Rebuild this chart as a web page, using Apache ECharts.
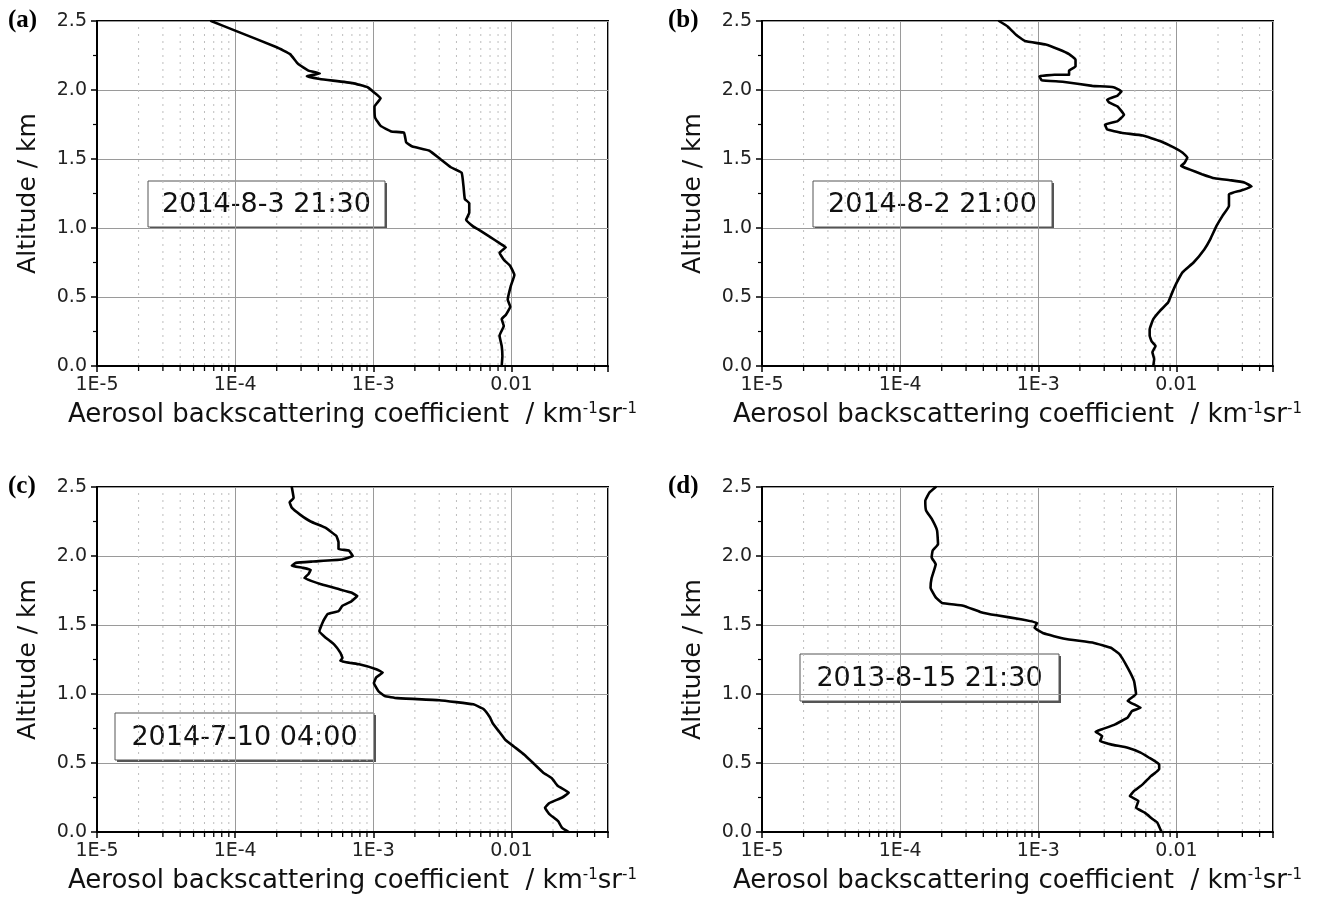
<!DOCTYPE html>
<html>
<head>
<meta charset="utf-8">
<title>Aerosol backscattering profiles</title>
<script src="https://cdn.jsdelivr.net/npm/echarts@6/dist/echarts.min.js"></script>
<style>
html, body { margin: 0; padding: 0; background: #ffffff; }
#chart { width: 1320px; height: 899px; }
</style>
</head>
<body>
<div id="chart"></div>
<script>
// ---------------- data ----------------
const panelLetters = ['(a)', '(b)', '(c)', '(d)'];
const panelDates = ['2014-8-3 21:30', '2014-8-2 21:00', '2014-7-10 04:00', '2013-8-15 21:30'];

const xTickValues = [1e-5, 1e-4, 1e-3, 1e-2];
const xTickLabels = ['1E-5', '1E-4', '1E-3', '0.01'];
const yTickValues = [0, 0.5, 1.0, 1.5, 2.0, 2.5];
const minorXValues = [
  2e-5, 3e-5, 4e-5, 5e-5, 6e-5, 7e-5, 8e-5, 9e-5,
  2e-4, 3e-4, 4e-4, 5e-4, 6e-4, 7e-4, 8e-4, 9e-4,
  2e-3, 3e-3, 4e-3, 5e-3, 6e-3, 7e-3, 8e-3, 9e-3,
  2e-2, 3e-2, 4e-2
];

// (a) 2014-8-3 21:30
const altA = [2.5, 2.43, 2.31, 2.26, 2.19, 2.14, 2.12, 2.10, 2.08, 2.05, 2.02, 1.98, 1.94, 1.88, 1.80, 1.74,
  1.70, 1.69, 1.62, 1.59, 1.56, 1.50, 1.44, 1.40, 1.30, 1.21, 1.18, 1.11, 1.06, 1.01, 0.99, 0.94,
  0.89, 0.86, 0.82, 0.77, 0.725, 0.66, 0.58, 0.48, 0.43, 0.37, 0.34, 0.29, 0.22, 0.145, 0.07, 0];
const betaA = [6.7e-5, 1.0e-4, 2.0e-4, 2.5e-4, 2.85e-4, 3.4e-4, 4.1e-4, 3.3e-4, 4.1e-4, 7.1e-4, 9.1e-4, 1.02e-3, 1.13e-3, 1.02e-3, 1.03e-3, 1.13e-3,
  1.35e-3, 1.67e-3, 1.73e-3, 1.92e-3, 2.55e-3, 3.05e-3, 3.64e-3, 4.36e-3, 4.5e-3, 4.6e-3, 4.95e-3, 4.95e-3, 4.7e-3, 5.3e-3, 5.75e-3, 6.9e-3,
  8.2e-3, 9.1e-3, 8.2e-3, 8.8e-3, 9.8e-3, 1.05e-2, 9.9e-3, 9.4e-3, 9.8e-3, 9.1e-3, 8.5e-3, 8.8e-3, 8.2e-3, 8.5e-3, 8.6e-3, 8.5e-3];

// (b) 2014-8-2 21:00
const altB = [2.5, 2.46, 2.40, 2.355, 2.33, 2.295, 2.26, 2.22, 2.17, 2.14, 2.11, 2.11, 2.10, 2.07, 2.06, 2.03,
  2.02, 1.99, 1.96, 1.93, 1.91, 1.88, 1.82, 1.775, 1.75, 1.715, 1.69, 1.67, 1.63, 1.58, 1.545, 1.51,
  1.47, 1.45, 1.425, 1.39, 1.36, 1.345, 1.33, 1.30, 1.27, 1.245, 1.16, 1.09, 1.015, 0.92, 0.845, 0.75,
  0.68, 0.60, 0.53, 0.46, 0.40, 0.34, 0.265, 0.22, 0.18, 0.145, 0.10, 0.05, 0];
const betaB = [5.2e-4, 6.0e-4, 6.9e-4, 8.0e-4, 1.13e-3, 1.40e-3, 1.67e-3, 1.86e-3, 1.86e-3, 1.67e-3, 1.67e-3, 1.31e-3, 1.02e-3, 1.06e-3, 1.50e-3, 2.46e-3,
  3.5e-3, 4.0e-3, 3.75e-3, 3.15e-3, 3.25e-3, 3.75e-3, 4.17e-3, 3.75e-3, 3.04e-3, 3.15e-3, 4.0e-3, 5.7e-3, 7.6e-3, 9.7e-3, 1.11e-2, 1.2e-2,
  1.14e-2, 1.08e-2, 1.24e-2, 1.53e-2, 1.89e-2, 2.5e-2, 3.1e-2, 3.5e-2, 2.9e-2, 2.4e-2, 2.4e-2, 2.16e-2, 1.95e-2, 1.76e-2, 1.59e-2, 1.33e-2,
  1.11e-2, 1.0e-2, 9.3e-3, 8.7e-3, 7.6e-3, 6.8e-3, 6.4e-3, 6.4e-3, 6.6e-3, 7.06e-3, 6.7e-3, 6.9e-3, 6.8e-3];

// (c) 2014-7-10 04:00
const altC = [2.5, 2.42, 2.39, 2.35, 2.30, 2.25, 2.205, 2.145, 2.10, 2.05, 2.04, 2.00, 1.975, 1.96, 1.95, 1.93,
  1.915, 1.90, 1.87, 1.84, 1.795, 1.76, 1.735, 1.71, 1.67, 1.64, 1.60, 1.58, 1.53, 1.455, 1.41, 1.36,
  1.30, 1.26, 1.24, 1.215, 1.18, 1.155, 1.12, 1.08, 1.02, 0.985, 0.97, 0.955, 0.925, 0.89, 0.83, 0.79,
  0.73, 0.67, 0.62, 0.56, 0.49, 0.43, 0.39, 0.333, 0.285, 0.25, 0.21, 0.175, 0.13, 0.08, 0.03, 0];
const betaC = [2.57e-4, 2.65e-4, 2.48e-4, 2.57e-4, 2.95e-4, 3.52e-4, 4.5e-4, 5.4e-4, 5.6e-4, 5.6e-4, 6.65e-4, 7.1e-4, 5.9e-4, 3.65e-4, 2.75e-4, 2.57e-4,
  3.06e-4, 3.52e-4, 3.4e-4, 3.17e-4, 4.2e-4, 5.6e-4, 6.9e-4, 7.65e-4, 6.9e-4, 5.98e-4, 5.6e-4, 4.68e-4, 4.35e-4, 4.07e-4, 4.5e-4, 5.2e-4,
  5.77e-4, 5.98e-4, 5.77e-4, 7.9e-4, 1.05e-3, 1.17e-3, 1.05e-3, 1.01e-3, 1.09e-3, 1.21e-3, 1.49e-3, 3.0e-3, 5.3e-3, 6.3e-3, 7.0e-3, 7.3e-3,
  8.1e-3, 9.0e-3, 1.04e-2, 1.24e-2, 1.47e-2, 1.7e-2, 1.96e-2, 2.17e-2, 2.6e-2, 2.33e-2, 1.88e-2, 1.75e-2, 1.88e-2, 2.17e-2, 2.33e-2, 2.6e-2];

// (d) 2013-8-15 21:30
const altD = [2.5, 2.46, 2.40, 2.33, 2.27, 2.185, 2.085, 2.04, 1.99, 1.94, 1.84, 1.77, 1.70, 1.66, 1.64, 1.595,
  1.57, 1.54, 1.515, 1.48, 1.44, 1.40, 1.37, 1.335, 1.29, 1.19, 1.095, 1.00, 0.95, 0.90, 0.877, 0.83,
  0.78, 0.745, 0.727, 0.695, 0.66, 0.635, 0.61, 0.575, 0.54, 0.49, 0.455, 0.405, 0.345, 0.297, 0.26, 0.225,
  0.176, 0.14, 0.092, 0.068, 0];
const betaD = [1.81e-4, 1.63e-4, 1.52e-4, 1.54e-4, 1.69e-4, 1.85e-4, 1.88e-4, 1.72e-4, 1.69e-4, 1.81e-4, 1.69e-4, 1.66e-4, 1.81e-4, 2.01e-4, 2.86e-4, 3.8e-4,
  5.0e-4, 7.65e-4, 9.8e-4, 9.4e-4, 1.09e-3, 1.55e-3, 2.53e-3, 3.35e-3, 3.86e-3, 4.44e-3, 4.93e-3, 5.1e-3, 4.44e-3, 5.5e-3, 4.77e-3, 4.44e-3,
  3.6e-3, 2.9e-3, 2.6e-3, 2.9e-3, 2.8e-3, 3.35e-3, 4.44e-3, 5.5e-3, 6.3e-3, 7.5e-3, 7.5e-3, 6.54e-3, 5.7e-3, 4.93e-3, 4.6e-3, 5.3e-3,
  5.1e-3, 5.9e-3, 6.75e-3, 7.27e-3, 7.8e-3];

const profiles = [[altA, betaA], [altB, betaB], [altC, betaC], [altD, betaD]];

// ---------------- layout / style ----------------
const X_MIN = 1e-5, X_MAX = 0.05, Y_MIN = 0, Y_MAX = 2.5;
const grids = [
  { left: 97, top: 21, width: 511, height: 345 },
  { left: 762, top: 21, width: 511, height: 345 },
  { left: 97, top: 487, width: 511, height: 345 },
  { left: 762, top: 487, width: 511, height: 345 }
];
const boxes = [
  { x: 148, y: 181, w: 237, h: 46 },
  { x: 813, y: 181, w: 239, h: 46 },
  { x: 115, y: 713, w: 259, h: 47 },
  { x: 800, y: 654, w: 259, h: 47 }
];
const letterPos = [[8, 21], [668, 21], [8, 487], [668, 487]];

const SANS = 'DejaVu Sans';
const isDecade = v => Math.abs(Math.log10(v) - Math.round(Math.log10(v))) < 1e-6;

const chart = echarts.init(document.getElementById('chart'), null, { renderer: 'canvas' });

const xAxes = [], yAxes = [], series = [], gridOpts = [], graphics = [];

grids.forEach((g, i) => {
  gridOpts.push(Object.assign({ show: true, borderColor: '#000', borderWidth: 2, backgroundColor: '#fff', containLabel: false }, g));

  xAxes.push({
    type: 'log', logBase: 10, gridIndex: i, min: X_MIN, max: X_MAX, splitNumber: 4,
    name: 'Aerosol backscattering coefficient  / km{sup|-1}sr{sup|-1}',
    nameLocation: 'middle', nameGap: 36,
    nameTextStyle: {
      fontFamily: SANS, fontSize: 26, color: '#111',
      rich: { sup: { fontFamily: SANS, fontSize: 15, color: '#111', verticalAlign: 'top', lineHeight: 14 } }
    },
    axisLine: { show: true, onZero: false, lineStyle: { color: '#000', width: 2 } },
    axisTick: { show: true, length: 6, inside: false, lineStyle: { color: '#000', width: 1.5 } },
    minorTick: { show: false },
    axisLabel: {
      show: true, margin: 10,
      textStyle: { fontFamily: SANS, fontSize: 19, color: '#222' },
      fontFamily: SANS, fontSize: 19, color: '#222',
      formatter: v => {
        if (!isDecade(v)) return '';
        const idx = xTickValues.findIndex(t => Math.abs(Math.log10(t) - Math.log10(v)) < 1e-6);
        return idx >= 0 ? xTickLabels[idx] : '';
      }
    },
    splitLine: { show: true, lineStyle: { color: '#9a9a9a', width: 1 } },
    minorSplitLine: { show: false }
  });

  yAxes.push({
    type: 'value', gridIndex: i, min: Y_MIN, max: Y_MAX, interval: 0.5,
    name: 'Altitude / km', nameLocation: 'middle', nameGap: 56, nameRotate: 90,
    nameTextStyle: { fontFamily: SANS, fontSize: 25, color: '#111' },
    axisLine: { show: true, onZero: false, lineStyle: { color: '#000', width: 2 } },
    axisTick: { show: true, length: 6, inside: false, lineStyle: { color: '#000', width: 1.5 } },
    minorTick: { show: true, splitNumber: 2, length: 4, lineStyle: { color: '#000', width: 1.2 } },
    axisLabel: { fontFamily: SANS, fontSize: 19, color: '#222', margin: 10, formatter: v => v.toFixed(1) },
    splitLine: { show: true, lineStyle: { color: '#9a9a9a', width: 1 } }
  });

  // minor decade lines (dotted) and minor ticks, positioned through the axis scales
  series.push({
    type: 'custom', xAxisIndex: i, yAxisIndex: i, silent: true, z: 1, clip: false,
    data: minorXValues.map(v => [v, Y_MIN]),
    renderItem: function (params, api) {
      const xv = api.value(0);
      const bot = api.coord([xv, Y_MIN]);
      const top = api.coord([xv, Y_MAX]);
      return {
        type: 'group',
        children: [
          { type: 'line', shape: { x1: bot[0], y1: bot[1] - 1, x2: top[0], y2: top[1] + 1 },
            style: { stroke: '#bdbdbd', lineWidth: 1, lineDash: [2, 5] } },
          { type: 'line', shape: { x1: bot[0], y1: bot[1] + 1, x2: bot[0], y2: bot[1] + 5 },
            style: { stroke: '#000', lineWidth: 1.3 } }
        ]
      };
    }
  });

  const [alt, beta] = profiles[i];
  series.push({
    type: 'line', xAxisIndex: i, yAxisIndex: i, z: 5,
    data: alt.map((a, k) => [beta[k], a]),
    showSymbol: false, symbol: 'none', smooth: 0.1,
    lineStyle: { color: '#000', width: 2.6, join: 'round', cap: 'round' },
    silent: true, animation: false
  });

  const b = boxes[i];
  graphics.push({
    type: 'group', z: 100,
    children: [
      { type: 'rect', shape: { x: b.x + 2, y: b.y + 2, width: b.w, height: b.h },
        style: { fill: '#555', stroke: null } },
      { type: 'rect', shape: { x: b.x, y: b.y, width: b.w, height: b.h },
        style: { fill: '#fff', stroke: '#555', lineWidth: 1 } },
      { type: 'text', x: b.x + b.w / 2, y: b.y + b.h / 2 + 1,
        style: { text: panelDates[i], fontFamily: SANS, fontSize: 27, fill: '#111', align: 'center', verticalAlign: 'middle' } }
    ]
  });
  graphics.push({
    type: 'text', x: letterPos[i][0], y: letterPos[i][1], z: 100,
    style: { text: panelLetters[i], fontFamily: 'Liberation Serif', fontWeight: 'bold', fontSize: 25, fill: '#000', align: 'left', verticalAlign: 'middle' }
  });
});

chart.setOption({
  backgroundColor: '#ffffff',
  animation: false,
  grid: gridOpts,
  xAxis: xAxes,
  yAxis: yAxes,
  series: series,
  graphic: graphics
});
</script>
</body>
</html>
